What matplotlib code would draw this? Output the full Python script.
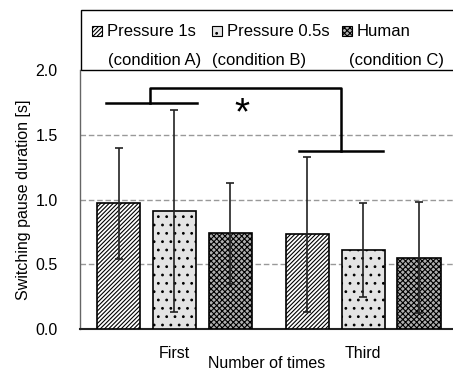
import matplotlib
matplotlib.use("Agg")
import matplotlib.pyplot as plt
from matplotlib.patches import Rectangle
import numpy as np

plt.rcParams['font.family'] = ['Liberation Sans', 'DejaVu Sans']
plt.rcParams['hatch.linewidth'] = 0.8

groups = ["First", "Third"]
conditions = ["Pressure 1s", "Pressure 0.5s", "Human"]
condition_notes = ["(condition A)", "(condition B)", "(condition C)"]
means_A = [0.97, 0.73]
means_B = [0.91, 0.61]
means_C = [0.74, 0.55]
err_A = [0.43, 0.60]
err_B = [0.78, 0.36]
err_C = [0.39, 0.43]
yticks = [0.0, 0.5, 1.0, 1.5, 2.0]

W, H = 453, 374
FS = 11.5
fig = plt.figure(figsize=(W / 100, H / 100), dpi=100)
ax = fig.add_axes([80 / W, 45 / H, 373 / W, 259 / H])

styles = [
    dict(facecolor='white', hatch='////////', edgecolor='black'),
    dict(facecolor='#e4e4e4', hatch='..', edgecolor='black'),
    dict(facecolor='#b0b0b0', hatch='xxxxxx', edgecolor='black'),
]
means = [means_A, means_B, means_C]
errs = [err_A, err_B, err_C]
x = np.arange(len(groups))
offs = [-0.296, 0.0, 0.296]
width = 0.23
for m, e, st, o in zip(means, errs, styles, offs):
    ax.bar(x + o, m, width, linewidth=1.2, zorder=3, **st)
    ax.errorbar(x + o, m, yerr=e, fmt='none', ecolor='#222222',
                elinewidth=1.2, capsize=3, capthick=1.2, zorder=4)

ax.set_ylim(0, 2.0)
ax.set_xlim(-0.5, 1.475)
ax.set_yticks(yticks)
ax.set_yticklabels([f"{v:.1f}" for v in yticks], fontsize=FS)
ax.set_xticks(x)
ax.set_xticklabels(groups, fontsize=FS)
ax.tick_params(axis='y', length=0, pad=16)
ax.tick_params(axis='x', length=0, pad=12)
ax.set_ylabel("Switching pause duration [s]", fontsize=FS, labelpad=3)
ax.set_xlabel("Number of times", fontsize=FS, labelpad=-3)
for v in [0.5, 1.0, 1.5]:
    ax.axhline(v, color='#999999', linestyle=(0, (4, 2)), linewidth=1.0, zorder=1)
ax.spines['top'].set_visible(False)
ax.spines['right'].set_visible(False)
ax.spines['left'].set_color('#666666')
ax.spines['left'].set_linewidth(1.0)
ax.spines['bottom'].set_color('#222222')
ax.spines['bottom'].set_linewidth(1.5)

# significance bracket
bk = dict(color='black', linewidth=1.8, zorder=5, clip_on=False)
ax.plot([-0.361, 0.118], [1.743, 1.743], **bk)
ax.plot([-0.132, -0.132, 0.880, 0.880], [1.743, 1.863, 1.863, 1.375], **bk)
ax.plot([0.660, 1.106], [1.375, 1.375], **bk)
ax.text(0.358, 1.66, "*", fontsize=28, ha='center', va='center', zorder=6)

# legend box (figure pixel coordinates)
def fx(px):
    return px / W

def fy(py):
    return 1 - py / H

fig.patches.append(Rectangle((fx(81), fy(70)), fx(W + 10) - fx(81), fy(10) - fy(70),
                             transform=fig.transFigure, facecolor='white',
                             edgecolor='black', linewidth=1.0, zorder=0))
patch_x = [92, 212, 342]
text_x = [107, 227, 357]
note_x = [108, 212, 349]
for st, px, tx, nx, lab, note in zip(styles, patch_x, text_x, note_x, conditions, condition_notes):
    fig.patches.append(Rectangle((fx(px), fy(36)), fx(10), 10 / H,
                                 transform=fig.transFigure, linewidth=0.8, **st))
    fig.text(fx(tx), fy(31), lab, fontsize=12, ha='left', va='center')
    fig.text(fx(nx), fy(60), note, fontsize=12, ha='left', va='center')

fig.savefig("out.png", dpi=100)
